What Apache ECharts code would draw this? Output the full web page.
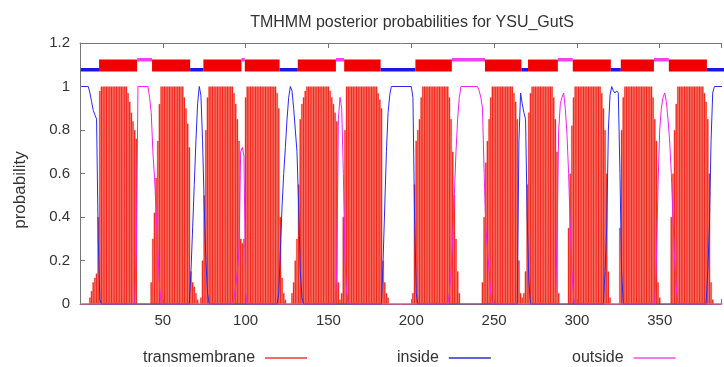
<!DOCTYPE html>
<html>
<head>
<meta charset="utf-8">
<script src="https://cdn.jsdelivr.net/npm/echarts@6/dist/echarts.min.js"></script>
<style>
  html, body { margin: 0; padding: 0; background: #fff; }
  #chart { width: 724px; height: 367px; }
</style>
</head>
<body>
<div id="chart"></div>
<script>
// posterior probability of transmembrane per residue, starting at residue 1 (10 per row)
const tmProb = [
  0, 0, 0, 0, 0, 0.03, 0.06, 0.1, 0.12, 0.14,
  0.4, 0.98, 1, 1, 1, 1, 1, 1, 1, 1,
  1, 1, 1, 1, 1, 1, 1, 1, 0.97, 0.93,
  0.88, 0.84, 0.8, 0.76, 0, 0, 0, 0, 0, 0,
  0, 0, 0.1, 0.3, 0.42, 0.58, 0.75, 0.92, 1, 1,
  1, 1, 1, 1, 1, 1, 1, 1, 1, 1,
  1, 1, 0.95, 0.9, 0.83, 0.72, 0.15, 0.1, 0.08, 0.05,
  0.02, 0, 0.03, 0.2, 0.5, 0.8, 0.95, 1, 1, 1,
  1, 1, 1, 1, 1, 1, 1, 1, 1, 1,
  1, 1, 0.97, 0.92, 0.85, 0.75, 0.3, 0.28, 0.3, 0.95,
  1, 1, 1, 1, 1, 1, 1, 1, 1, 1,
  1, 1, 1, 1, 1, 1, 1, 1, 0.97, 0.9,
  0.4, 0.12, 0.05, 0.02, 0, 0, 0, 0.05, 0.1, 0.2,
  0.3, 0.55, 0.85, 0.92, 0.95, 0.98, 1, 1, 1, 1,
  1, 1, 1, 1, 1, 1, 1, 1, 1, 1,
  0.98, 0.95, 0.92, 0.88, 0.84, 0.1, 0.02, 0.05, 0.4, 0.8,
  1, 1, 1, 1, 1, 1, 1, 1, 1, 1,
  1, 1, 1, 1, 1, 1, 1, 1, 1, 0.97,
  0.94, 0.9, 0.2, 0.1, 0.05, 0.03, 0, 0, 0, 0,
  0, 0, 0, 0, 0, 0, 0, 0, 0, 0,
  0.05, 0.55, 0.75, 0.8, 0.85, 0.95, 1, 1, 1, 1,
  1, 1, 1, 1, 1, 1, 1, 1, 1, 1,
  1, 1, 0.95, 0.85, 0.7, 0.5, 0.3, 0.15, 0.05, 0,
  0, 0, 0, 0, 0, 0, 0, 0, 0, 0,
  0, 0, 0.1, 0.4, 0.65, 0.75, 0.85, 0.95, 1, 1,
  1, 1, 1, 1, 1, 1, 1, 1, 1, 1,
  1, 0.97, 0.93, 0.85, 0.2, 0.05, 0.03, 0.05, 0.15, 0.55,
  0.88, 0.97, 1, 1, 1, 1, 1, 1, 1, 1,
  1, 1, 1, 1, 1, 0.95, 0.85, 0.7, 0.05, 0,
  0, 0, 0, 0, 0.35, 0.6, 0.82, 0.95, 1, 1,
  1, 1, 1, 1, 1, 1, 1, 1, 1, 1,
  1, 1, 1, 1, 0.97, 0.9, 0.8, 0.6, 0.15, 0.03,
  0, 0, 0, 0, 0, 0.35, 0.8, 0.95, 1, 1,
  1, 1, 1, 1, 1, 1, 1, 1, 1, 1,
  1, 1, 1, 1, 1, 0.95, 0.85, 0.75, 0.1, 0.03,
  0, 0, 0, 0, 0, 0, 0.4, 0.6, 0.8, 0.92,
  1, 1, 1, 1, 1, 1, 1, 1, 1, 1,
  1, 1, 1, 1, 1, 1, 0.97, 0.93, 0.85, 0.6,
  0.1, 0.02, 0, 0, 0, 0, 0, 0, 0, 0,
  0, 0, 0, 0, 0
];

// inside / outside probability, [residue, probability]
const insideProb = [
  [1, 1], [5, 1], [6, 0.97], [7, 0.93], [8, 0.89], [9, 0.87], [10, 0.85], [11, 0.3], [12, 0.02], [13, 0],
  [66, 0], [67, 0.15], [68, 0.35], [69, 0.55], [70, 0.75], [71, 0.92], [72, 1], [73, 0.96], [74, 0.75],
  [75, 0.45], [76, 0.2], [77, 0.05], [78, 0],
  [119, 0], [120, 0.05], [121, 0.25], [122, 0.45], [123, 0.6], [124, 0.72], [125, 0.85], [126, 0.95],
  [127, 1], [128, 0.98], [129, 0.9], [130, 0.8], [131, 0.7], [132, 0.45], [133, 0.15], [134, 0.03], [135, 0],
  [182, 0], [183, 0.2], [184, 0.45], [185, 0.7], [186, 0.88], [187, 0.96], [188, 1], [200, 1], [201, 0.95],
  [202, 0.4], [203, 0.05], [204, 0],
  [264, 0], [265, 0.75], [266, 0.97], [267, 0.92], [268, 0.88], [269, 0.85], [270, 0.4], [271, 0.1], [272, 0],
  [316, 0], [317, 0.15], [318, 0.35], [319, 0.8], [320, 0.96], [321, 1], [322, 0.98], [323, 0.97], [324, 0.98],
  [325, 0.97], [326, 0.6], [327, 0.15], [328, 0],
  [378, 0], [379, 0.15], [380, 0.35], [381, 0.75], [382, 0.97], [383, 1], [395, 1]
];

const outsideProb = [
  [1, 0], [33, 0], [34, 0.24], [35, 1], [41, 1], [42, 0.95], [43, 0.88], [44, 0.7], [45, 0.58], [46, 0.42],
  [47, 0.25], [48, 0.08], [49, 0],
  [92, 0], [93, 0.03], [94, 0.08], [95, 0.15], [96, 0.25], [97, 0.7], [98, 0.72], [99, 0.68], [100, 0.05], [101, 0],
  [154, 0], [155, 0.15], [156, 0.85], [157, 0.95], [158, 0.9], [159, 0.6], [160, 0.2], [161, 0.05], [162, 0],
  [222, 0], [223, 0.05], [224, 0.15], [225, 0.3], [226, 0.5], [227, 0.7], [228, 0.85], [229, 0.95], [230, 1],
  [240, 1], [241, 0.98], [242, 0.95], [243, 0.9], [244, 0.6], [245, 0.35], [246, 0.25], [247, 0.15], [248, 0.05], [249, 0],
  [287, 0], [288, 0.3], [289, 0.8], [290, 0.92], [291, 0.95], [292, 0.97], [293, 0.9], [294, 0.78], [295, 0.6],
  [296, 0.35], [297, 0.15], [298, 0.03], [299, 0],
  [347, 0], [348, 0.2], [349, 0.55], [350, 0.8], [351, 0.9], [352, 0.95], [353, 0.97], [354, 0.93], [355, 0.85],
  [356, 0.75], [357, 0.6], [358, 0.4], [359, 0.2], [360, 0.08], [361, 0], [395, 0]
];

// predicted topology drawn along the top
const topoStart = [1, 12, 35, 44, 67, 75, 98, 100, 121, 132, 155, 160, 182, 203, 225, 245, 267, 271, 289, 298, 321, 327, 347, 356, 379];
const topoEnd   = [11, 34, 43, 66, 74, 97, 99, 120, 131, 154, 159, 181, 202, 224, 244, 266, 270, 288, 297, 320, 326, 346, 355, 378, 395];
const topoKind  = ["inside", "TMhelix", "outside", "TMhelix", "inside", "TMhelix", "outside", "TMhelix", "inside",
  "TMhelix", "outside", "TMhelix", "inside", "TMhelix", "outside", "TMhelix", "inside", "TMhelix", "outside",
  "TMhelix", "inside", "TMhelix", "outside", "TMhelix", "inside"];

const xTicks = [50, 100, 150, 200, 250, 300, 350];

const RED = "#f01a0e";
const BLUE = "#2a2af0";
const MAGENTA = "#f020f0";
const AXIS = "#777";
const FONT = "Liberation Sans";

const topoBand = {
  TMhelix: { lo: 1.069, hi: 1.124, color: "#f00000" },
  inside: { lo: 1.069, hi: 1.085, color: "#1818e0" },
  outside: { lo: 1.115, hi: 1.131, color: "#f040f0" }
};

const chart = echarts.init(document.getElementById("chart"));

const legendBase = {
  orient: "horizontal",
  align: "right",
  icon: "rect",
  itemWidth: 42,
  itemHeight: 2,
  top: 345,
  textStyle: { fontFamily: FONT, fontSize: 16, color: "#333", padding: [0, 5, 0, 0] },
  selectedMode: false
};

const axisCommon = {
  axisLine: { show: true, lineStyle: { color: AXIS } },
  axisTick: { show: true, inside: true, length: 5, lineStyle: { color: AXIS } },
  splitLine: { show: false }
};

chart.setOption({
  animation: false,
  title: {
    text: "TMHMM posterior probabilities for YSU_GutS",
    left: 407,
    top: 10,
    textAlign: "center",
    textStyle: { fontFamily: FONT, fontSize: 16, fontWeight: "normal", color: "#333" }
  },
  // the plot runs past the right edge of the picture, so the x range stops at the crop
  grid: { left: 80, top: 43, right: 0, height: 261 },
  legend: [
    Object.assign({}, legendBase, { left: 138, data: [{ name: "transmembrane", itemStyle: { color: "#f26a6a", borderWidth: 0 } }] }),
    Object.assign({}, legendBase, { left: 392, data: [{ name: "inside", itemStyle: { color: "#6060e0" } }] }),
    Object.assign({}, legendBase, { left: 567, data: [{ name: "outside", itemStyle: { color: "#f07cf0" } }] })
  ],
  xAxis: [
    Object.assign({}, axisCommon, {
      type: "value", min: 0, max: 387, interval: 50,
      axisLabel: {
        margin: 9, fontFamily: FONT, fontSize: 15, color: "#333",
        formatter: (v) => (xTicks.includes(v) ? String(v) : "")
      }
    }),
    Object.assign({}, axisCommon, {
      type: "value", position: "top", min: 0, max: 387, interval: 50,
      axisLabel: { show: false }
    })
  ],
  yAxis: Object.assign({}, axisCommon, {
    type: "value", min: 0, max: 1.2, interval: 0.2,
    axisLabel: { margin: 10, fontFamily: FONT, fontSize: 15, color: "#333" }
  }),
  graphic: [
    {
      type: "text",
      x: 20, y: 190,
      rotation: Math.PI / 2,
      style: {
        text: "probability", fontFamily: FONT, fontSize: 17, fill: "#333",
        align: "center", verticalAlign: "middle"
      }
    }
  ],
  series: [
    {
      name: "transmembrane",
      type: "bar",
      data: tmProb.map((p, i) => [i + 1, p]),
      barWidth: 1.7,
      itemStyle: { color: RED, borderColor: "#f4604f", borderWidth: 0.4 },
      z: 2
    },
    {
      name: "inside",
      type: "line",
      data: insideProb,
      showSymbol: false,
      lineStyle: { color: BLUE, width: 1 },
      itemStyle: { color: BLUE },
      z: 3
    },
    {
      name: "outside",
      type: "line",
      data: outsideProb,
      showSymbol: false,
      lineStyle: { color: MAGENTA, width: 1 },
      itemStyle: { color: MAGENTA },
      z: 3
    },
    {
      name: "topology",
      type: "custom",
      data: topoStart.map((s, i) => [s, topoEnd[i]]),
      renderItem: (params, api) => {
        const band = topoBand[topoKind[params.dataIndex]];
        const p0 = api.coord([api.value(0) - 0.5, band.hi]);
        const p1 = api.coord([api.value(1) + 0.5, band.lo]);
        return {
          type: "rect",
          shape: { x: p0[0], y: p0[1], width: p1[0] - p0[0], height: p1[1] - p0[1] },
          style: { fill: band.color }
        };
      },
      z: 4
    }
  ]
});
</script>
</body>
</html>
